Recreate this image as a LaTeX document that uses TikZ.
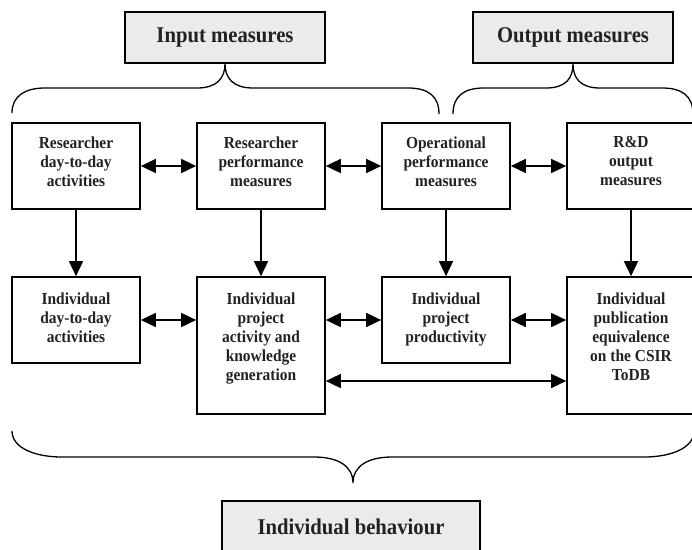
\documentclass[tikz,border=0pt]{standalone}
\usepackage{fontspec}
\setmainfont{Liberation Serif}[FakeStretch=0.92]
\usetikzlibrary{arrows.meta}
\definecolor{headfill}{HTML}{EBEBEB}
\definecolor{ink}{HTML}{222222}
\begin{document}
\begin{tikzpicture}[x=1pt,y=-1pt,
  box/.style={draw=black, line width=1.7pt, minimum width=128pt, inner sep=0pt},
  head/.style={draw=black, line width=1.6pt, fill=headfill, minimum height=51pt,
    inner sep=0pt, font=\fontsize{22.5}{26}\selectfont\bfseries, text=ink},
  txt/.style={align=center, inner sep=0pt, anchor=north,
    font=\fontsize{16.8}{19}\selectfont\bfseries, text=ink},
  link/.style={line width=1.7pt, -{Triangle[length=15pt,width=14pt]}},
  dlink/.style={line width=1.7pt, {Triangle[length=15pt,width=14pt]}-{Triangle[length=15pt,width=14pt]}},
  brace/.style={line width=1.3pt}]

\useasboundingbox (0,0) rectangle (692,549);
\fill[white] (0,0) rectangle (692,549);
\clip (0,0) rectangle (692,549);

% headings
\node[head, minimum width=200pt] (inp) at (225,37.5) {Input measures};
\node[head, minimum width=200pt] (outp) at (573,37.5) {Output measures};
\node[head, minimum width=258pt] (beh) at (351,526.5) {Individual behaviour};

% top row
\node[box, minimum height=86pt] (r1) at (76,166) {};
\node[box, minimum height=86pt] (r2) at (261,166) {};
\node[box, minimum height=86pt] (r3) at (446,166) {};
\node[box, minimum height=86pt] (r4) at (631,166) {};
\node[txt, yshift=-14pt] (r1t) at (r1.north) {Researcher\\day-to-day\\activities};
\node[txt, yshift=-14pt] (r2t) at (r2.north) {Researcher\\performance\\measures};
\node[txt, yshift=-14pt] (r3t) at (r3.north) {Operational\\performance\\measures};
\node[txt, yshift=-14pt] (r4t) at (r4.north) {R\&D\\output\\measures};

% bottom row
\node[box, minimum height=86pt] (b1) at (76,320) {};
\node[box, minimum height=137pt] (b2) at (261,345.5) {};
\node[box, minimum height=86pt] (b3) at (446,320) {};
\node[box, minimum height=137pt] (b4) at (631,345.5) {};
\node[txt, yshift=-16pt] (b1t) at (b1.north) {Individual\\day-to-day\\activities};
\node[txt, yshift=-16pt] (b2t) at (b2.north) {Individual\\project\\activity and\\knowledge\\generation};
\node[txt, yshift=-16pt] (b3t) at (b3.north) {Individual\\project\\productivity};
\node[txt, yshift=-16pt] (b4t) at (b4.north) {Individual\\publication\\equivalence\\on the CSIR\\ToDB};

% links between the top boxes
\draw[dlink] (r1) -- (r2);
\draw[dlink] (r2) -- (r3);
\draw[dlink] (r3) -- (r4);

% downward links
\draw[link] (r1) -- (b1);
\draw[link] (r2) -- (b2);
\draw[link] (r3) -- (b3);
\draw[link] (r4) -- (b4);

% links between the bottom boxes
\draw[dlink] (b1.east) -- (b1.east -| b2.west);
\draw[dlink] (b3.west -| b2.east) -- (b3.west);
\draw[dlink] (b3.east) -- (b3.east -| b4.west);
\coordinate (lo) at ([yshift=-35.5pt]b2.east);
\draw[dlink] (lo) -- (lo -| b4.west);

% braces
\draw[brace] (12,113) .. controls (12,96) and (25,88) .. (45,88) -- (197,88)
  .. controls (217,88) and (225,78) .. (inp.south)
  .. controls (225,78) and (233,88) .. (253,88) -- (408,88)
  .. controls (428,88) and (439,96) .. (439,114);
\draw[brace] (453,114) .. controls (453,96) and (464,88) .. (484,88) -- (546,88)
  .. controls (566,88) and (573,78) .. (outp.south)
  .. controls (573,78) and (580,88) .. (600,88) -- (662,88)
  .. controls (682,88) and (693,96) .. (693,114);
\draw[brace] (12,431) .. controls (12,448) and (35,457) .. (62,457) -- (314,457)
  .. controls (338,457) and (353,466) .. (353,483)
  .. controls (353,466) and (368,457) .. (392,457) -- (644,457)
  .. controls (671,457) and (694,448) .. (694,431);
\end{tikzpicture}
\end{document}
